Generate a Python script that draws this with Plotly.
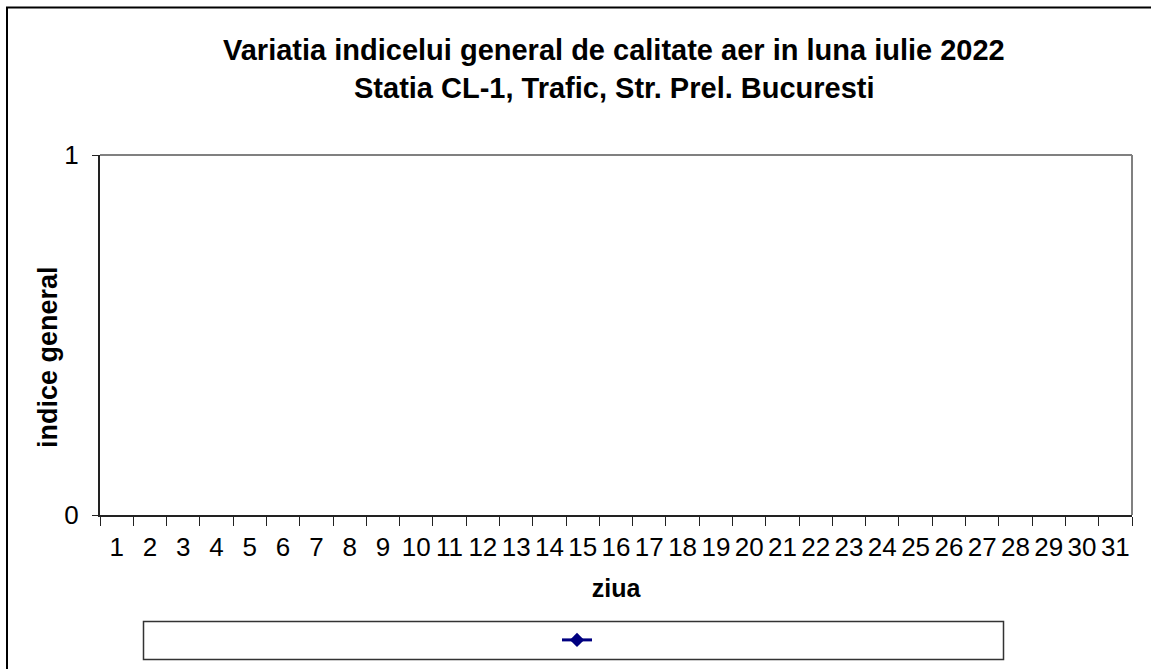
import plotly.graph_objects as go

# ---- data ----
days = [str(d) for d in range(1, 32)]
indice_general = [None, None, None, None, None, None, None, None, None, None,
                  None, None, None, None, None, None, None, None, None, None,
                  None, None, None, None, None, None, None, None, None, None,
                  None]
y_ticks = [0, 1]
title_line1 = "Variatia indicelui general de calitate aer in luna iulie 2022"
title_line2 = "Statia CL-1, Trafic, Str. Prel. Bucuresti"
x_title = "ziua"
y_title = "indice general"

FONT = "Arial, Liberation Sans, sans-serif"
W, H = 1151, 669
L, R, T, B = 100, 19, 155, 154
PW, PH = W - L - R, H - T - B


def px(x):
    return (x - L) / PW


def py(y):
    return (H - B - y) / PH


fig = go.Figure()
fig.add_trace(go.Scatter(
    x=days, y=indice_general, mode="lines+markers", name=" ",
    line=dict(color="#000080", width=3),
    marker=dict(symbol="diamond", size=11, color="#000080"),
    showlegend=True,
))

fig.update_layout(
    width=W, height=H,
    margin=dict(l=L, r=R, t=T, b=B),
    paper_bgcolor="white", plot_bgcolor="white",
    font=dict(family=FONT, color="black"),
    showlegend=True,
    legend=dict(x=px(557), y=py(640), xanchor="left", yanchor="middle",
                bgcolor="rgba(0,0,0,0)", borderwidth=0,
                font=dict(size=16, family=FONT)),
    xaxis=dict(
        type="category", categoryorder="array", categoryarray=days,
        range=[-0.5, 30.5], tickson="boundaries", tickangle=0,
        ticks="outside", ticklen=9, tickwidth=1, tickcolor="#222",
        showline=True, linecolor="#222", linewidth=2,
        showgrid=False, zeroline=False,
        tickfont=dict(size=26, family=FONT, color="black"),
        ticklabelstandoff=8,
        title=dict(text="<b>" + x_title + "</b>", standoff=18,
                   font=dict(size=25, family=FONT, color="black")),
    ),
    yaxis=dict(
        range=[0, 1], tickmode="array", tickvals=y_ticks,
        ticks="outside", ticklen=6, tickwidth=1, tickcolor="#222",
        showline=True, linecolor="#222", linewidth=2,
        showgrid=False, zeroline=False,
        tickfont=dict(size=26, family=FONT, color="black"),
        ticklabelstandoff=8,
    ),
)

# titles
fig.add_annotation(text="<b>" + title_line1 + "</b>", xref="paper", yref="paper",
                   x=px(614), y=py(50), xanchor="center", yanchor="middle",
                   showarrow=False, font=dict(size=29, family=FONT, color="black"))
fig.add_annotation(text="<b>" + title_line2 + "</b>", xref="paper", yref="paper",
                   x=px(614), y=py(88), xanchor="center", yanchor="middle",
                   showarrow=False, font=dict(size=29, family=FONT, color="black"))
fig.add_annotation(text="<b>" + y_title + "</b>", xref="paper", yref="paper",
                   x=px(48), y=py(357), xanchor="center", yanchor="middle",
                   textangle=-90, showarrow=False,
                   font=dict(size=27, family=FONT, color="black"))

# plot area top/right border (gray)
fig.add_shape(type="line", xref="paper", yref="paper", x0=0, x1=1, y0=1, y1=1,
              line=dict(color="#808080", width=2))
fig.add_shape(type="line", xref="paper", yref="paper", x0=1, x1=1, y0=0, y1=1,
              line=dict(color="#808080", width=2))
# legend box
fig.add_shape(type="rect", xref="paper", yref="paper",
              x0=px(143.5), x1=px(1003.5), y0=py(659.5), y1=py(621.5),
              line=dict(color="#333", width=1.5))
# outer chart border
fig.add_shape(type="rect", xref="paper", yref="paper",
              x0=px(7), x1=px(1170), y0=py(690), y1=py(7.5),
              line=dict(color="black", width=2))

fig.write_html("out.html", config={"displayModeBar": False},
               post_script="document.body.style.margin='0';")
